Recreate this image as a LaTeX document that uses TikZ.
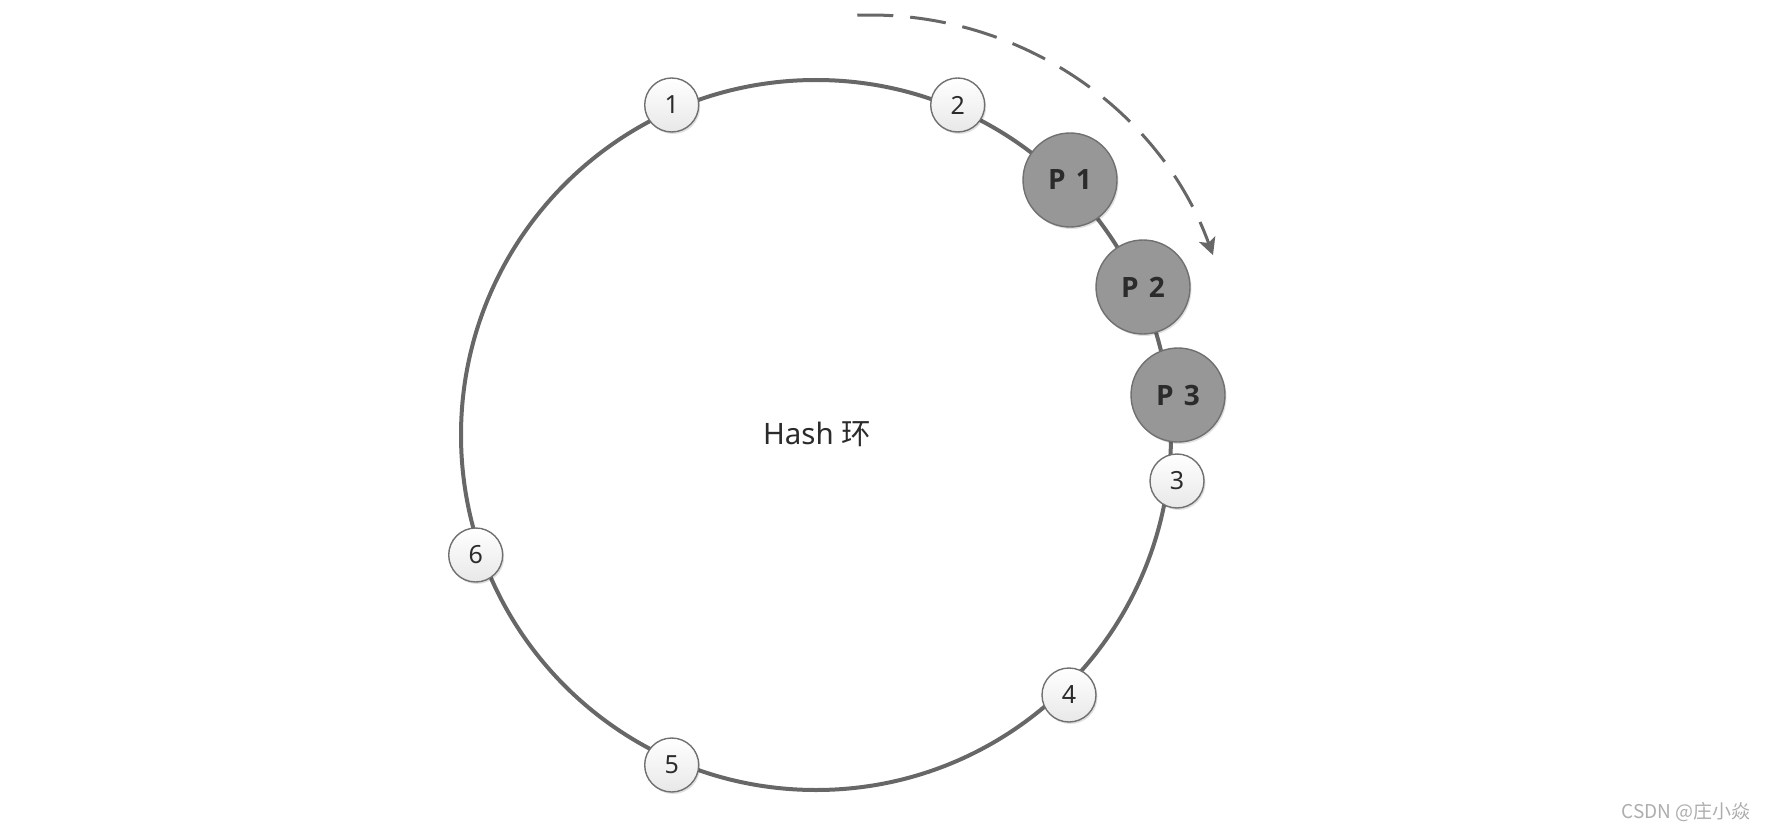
\documentclass[tikz,border=0pt]{standalone}
\usepackage{fontspec}
\setmainfont{Noto Sans}
\newfontfamily\pfont{Open Sans}
\newfontfamily\cjk{Noto Sans CJK SC}
\usetikzlibrary{arrows.meta,shadows,calc}
\definecolor{ringgray}{HTML}{676767}
\definecolor{pfill}{HTML}{979797}
\definecolor{nodeborder}{HTML}{707070}
\definecolor{txt}{HTML}{2B2B2B}
\definecolor{wm}{HTML}{ADADAD}
\tikzset{
  ring/.style={draw=ringgray, line width=4pt},
  vnode/.style={circle, minimum size=54pt, inner sep=0pt, draw=nodeborder, line width=1.4pt,
    top color=white, bottom color=black!9, text=txt,
    font=\fontsize{25}{30}\selectfont,
    drop shadow={shadow xshift=1.5pt, shadow yshift=-2pt, fill=black, opacity=0.12}},
  pnode/.style={circle, minimum size=94pt, inner sep=0pt, draw=nodeborder, line width=1.4pt,
    fill=pfill, text=txt, font=\pfont\bfseries\fontsize{28}{32}\selectfont,
    drop shadow={shadow xshift=1.5pt, shadow yshift=-2pt, fill=black, opacity=0.12}},
  flow/.style={draw=ringgray, line width=3pt, dash pattern=on 36pt off 17pt,
    -{Stealth[length=17pt,width=17pt,inset=4pt]}},
}
\begin{document}
\begin{tikzpicture}[x=1pt,y=-1pt]
\useasboundingbox (0,0) rectangle (1766,829);
\coordinate (c) at (816,435);
\draw[ring] (c) circle (355);
\node[vnode] (n1) at (671.7,105) {1};
\node[vnode] (n2) at (957.7,105) {2};
\node[vnode] (n3) at (1177,481) {3};
\node[vnode] (n4) at (1069,695) {4};
\node[vnode] (n5) at (671.7,765) {5};
\node[vnode] (n6) at (475.7,555) {6};
\node[pnode] (p1) at (1070,180) {P\hspace{3pt} 1};
\node[pnode] (p2) at (1143,287) {P\hspace{3pt} 2};
\node[pnode] (p3) at (1178,395) {P\hspace{3pt} 3};
\node[font=\fontsize{29.5}{34}\selectfont, text=txt] (title) at (817,434) {Hash {\cjk 环}};
\coordinate (ac) at (870,380);
\coordinate (as) at ($(ac)+(-92:365)$);
\draw[flow] (as) arc[start angle=-92, end angle=-20, radius=365];
\node[anchor=east, text=wm, font=\cjk\fontsize{19}{22}\selectfont] (wmk) at (1754,812) {CSDN @庄小焱};
\end{tikzpicture}
\end{document}
